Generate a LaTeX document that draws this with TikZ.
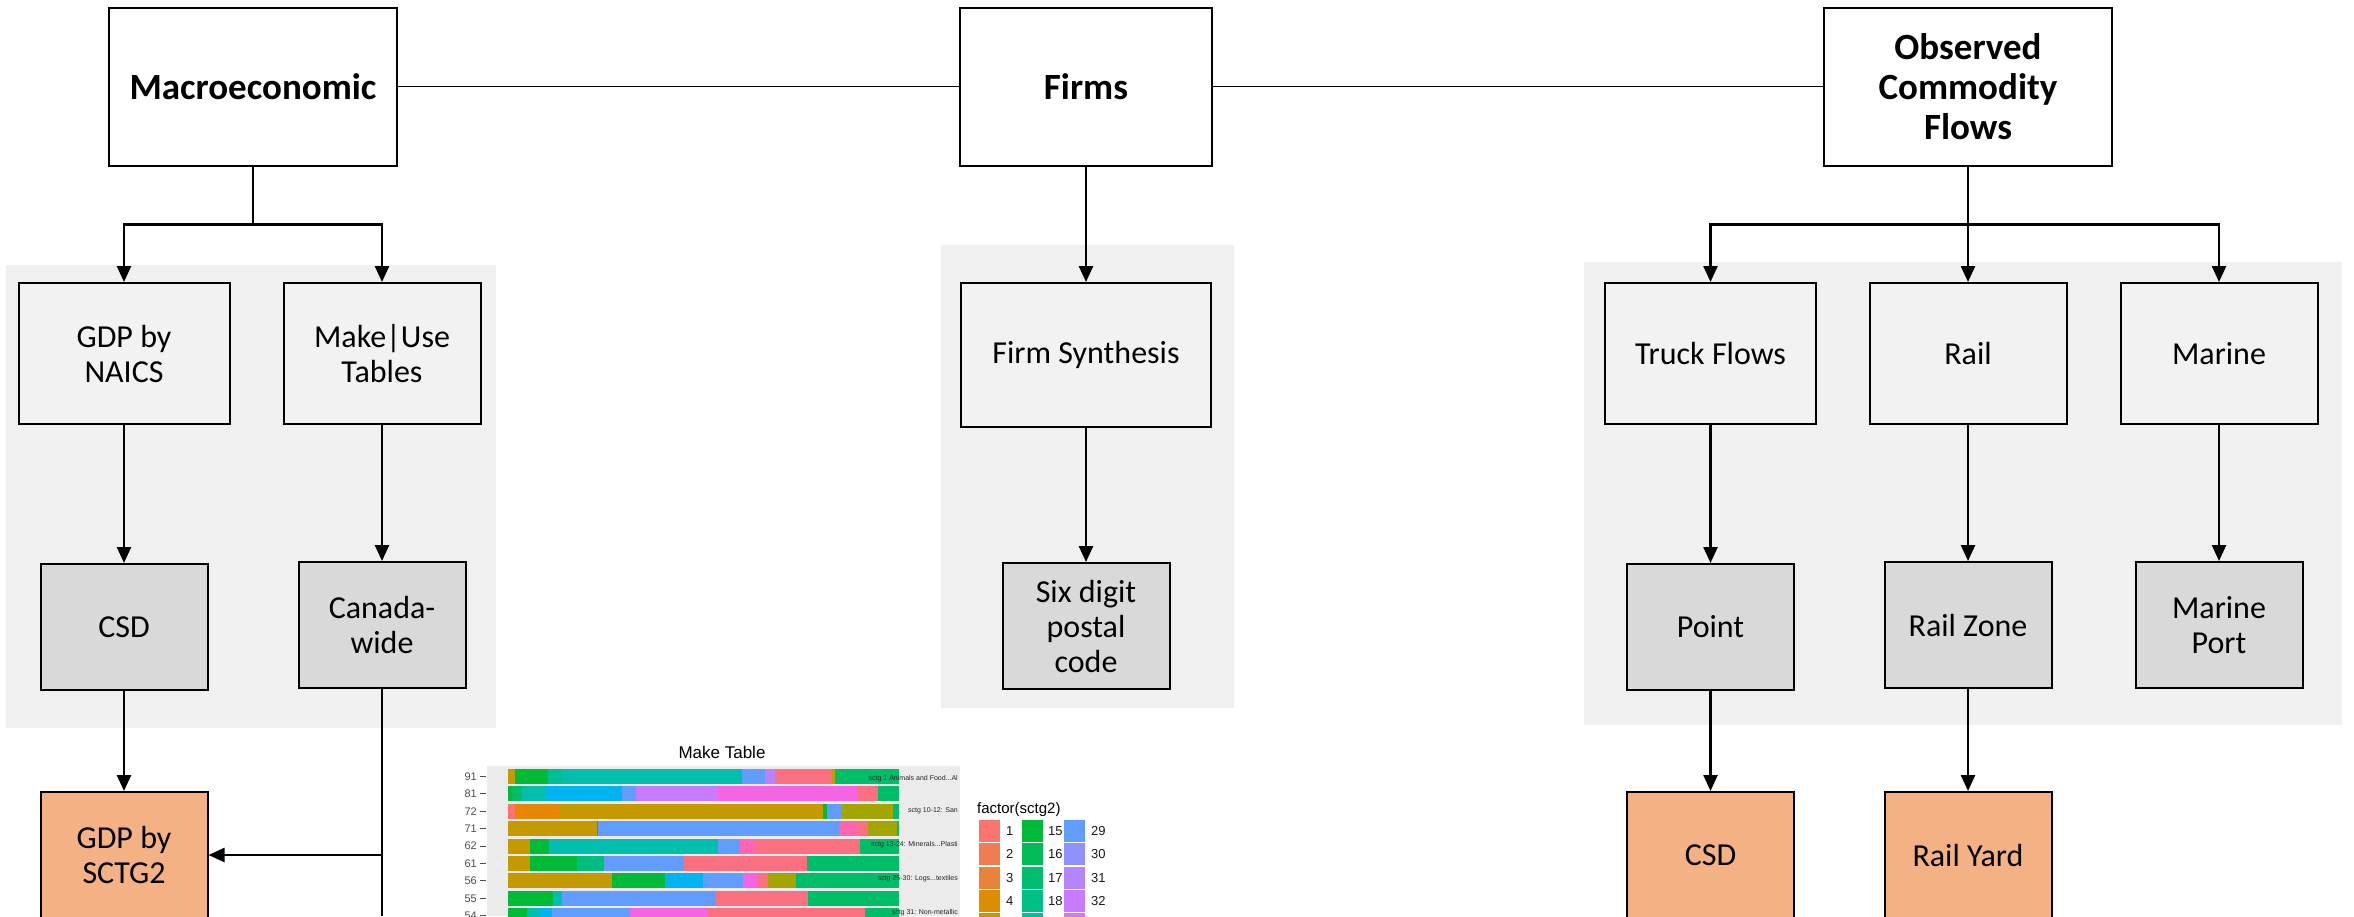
\documentclass[tikz,border=0pt]{standalone}
\usepackage{fontspec}
\setmainfont{Carlito}
\newfontfamily\plotfont{Liberation Sans}
\usetikzlibrary{positioning}
\usetikzlibrary{arrows.meta}

\definecolor{panelgray}{HTML}{F0F0F0}
\definecolor{srcfill}{HTML}{F2F2F2}
\definecolor{geofill}{HTML}{D9D9D9}
\definecolor{outfill}{HTML}{F4B183}
% plot colours
\definecolor{plotbg}{HTML}{EBEBEB}
\definecolor{cgold}{HTML}{C49A00}
\definecolor{corng}{HTML}{E58700}
\definecolor{csalm}{HTML}{F8766D}
\definecolor{cpnk}{HTML}{FA7080}
\definecolor{cpinkm}{HTML}{FF64B0}
\definecolor{colive}{HTML}{A3A500}
\definecolor{cgrn}{HTML}{00BA38}
\definecolor{cgrnb}{HTML}{00BD68}
\definecolor{cgrnc}{HTML}{00BF7D}
\definecolor{cteal}{HTML}{00BFAE}
\definecolor{ctealb}{HTML}{00BF96}
\definecolor{ccyan}{HTML}{00B4EF}
\definecolor{cblue}{HTML}{619CFF}
\definecolor{clav}{HTML}{B983FF}
\definecolor{cpurp}{HTML}{C77CFF}
\definecolor{cmag}{HTML}{F564E3}
\definecolor{lgb}{HTML}{EE7E52}
\definecolor{lgc}{HTML}{E7843A}
\definecolor{lgd}{HTML}{DE8C00}
\definecolor{lge}{HTML}{D39200}
\definecolor{lgp}{HTML}{00BC57}
\definecolor{lgq}{HTML}{00BE6F}
\definecolor{lgr}{HTML}{00C085}
\definecolor{lgs}{HTML}{00C199}
\definecolor{lgx}{HTML}{8F91FF}
\definecolor{lgy}{HTML}{B385FF}
\definecolor{lgz}{HTML}{DB72FB}

\tikzset{
    topbox/.style={
    draw, fill=white, line width=2pt,
    minimum width=288pt, minimum height=158pt,
    align=center, font=\fontsize{37}{40}\selectfont\bfseries
    },
    srcbox/.style={
    draw, fill=srcfill, line width=2pt,
    minimum height=141pt, inner sep=2pt,
    align=center, font=\fontsize{32}{35}\selectfont
    },
    geobox/.style={
    draw, fill=geofill, line width=2pt,
    minimum width=167pt, minimum height=126pt, inner sep=2pt,
    align=center, font=\fontsize{32}{35}\selectfont
    },
    outbox/.style={geobox, fill=outfill},
    arr/.style={line width=2.5pt, -{Triangle[length=16pt,width=14pt]}},
    conn/.style={line width=2.5pt},
    link/.style={line width=1.5pt},
    ylab/.style={font=\plotfont\fontsize{11}{13}\selectfont, text=black!70, inner sep=0pt},
    striplab/.style={font=\plotfont\fontsize{7}{8}\selectfont, text=black!85, inner sep=1pt},
    leglab/.style={font=\plotfont\fontsize{13}{15}\selectfont, text=black!90, inner sep=0pt}
}

\begin{document}
\begin{tikzpicture}[x=1pt,y=-1pt]
\useasboundingbox (0,0) rectangle (2354,916);
\clip (0,0) rectangle (2354,916);

% grey panels behind the groups
\fill[panelgray] (6,265) rectangle (496,728);
\fill[panelgray] (941,245) rectangle (1234,708);
\fill[panelgray] (1584,262) rectangle (2342,725);

\node [topbox](macro) at (253,86.5) {Macroeconomic};
\node [topbox,minimum width=252pt](firms) at (1086,86.5) {Firms};
\node [topbox](obs) at (1968,86.5) {Observed\\Commodity\\Flows};

\node [srcbox,minimum width=211pt](naics) at (124,353.5) {GDP by\\NAICS};
\node [srcbox,minimum width=197pt](makeuse) at (382,353.5) {Make|Use\\Tables};
\node [srcbox,minimum width=250pt,minimum height=144pt](synth) at (1086,355) {Firm Synthesis};
\node [srcbox,minimum width=211pt](truck) at (1710.5,353.5) {Truck Flows};
\node [srcbox,minimum width=197pt](rail) at (1968,353.5) {Rail};
\node [srcbox,minimum width=197pt](marine) at (2219,353.5) {Marine};

\node [geobox, below=138pt of naics](csd) {CSD};
\node [geobox, below=136pt of makeuse](canada) {Canada-\\wide};
\node [geobox, below=134pt of synth](postal) {Six digit\\postal\\code};
\node [geobox, below=138pt of truck](point) {Point};
\node [geobox, below=136pt of rail](railzone) {Rail Zone};
\node [geobox, below=136pt of marine](port) {Marine\\Port};

\node [outbox, below=100pt of csd](sctg) {GDP by\\SCTG2};
\node [outbox, below=100pt of point](csdout) {CSD};
\node [outbox, below=102pt of railzone](yard) {Rail Yard};

\draw[link] (macro.east) -- (firms.west);
\draw[link] (firms.east) -- (obs.west);

\draw[arr] (macro.south) -- ++(0,58) -| (naics.north);
\draw[arr] (macro.south) -- ++(0,58) -| (makeuse.north);
\draw[arr] (firms.south) -- (synth.north);
\draw[arr] (obs.south) -- ++(0,58) -| (truck.north);
\draw[arr] (obs.south) -- (rail.north);
\draw[arr] (obs.south) -- ++(0,58) -| (marine.north);

\draw[arr] (naics) -- (csd);
\draw[arr] (makeuse) -- (canada);
\draw[arr] (synth) -- (postal);
\draw[arr] (truck) -- (point);
\draw[arr] (rail) -- (railzone);
\draw[arr] (marine) -- (port);

\draw[arr] (csd) -- (sctg);
\draw[arr] (point) -- (csdout);
\draw[arr] (railzone) -- (yard);

\coordinate (cwend) at (382,916);
\draw[conn] (canada.south) -- (cwend);
\draw[arr] (canada.south |- sctg.east) -- (sctg.east);

% Make Table plot
\fill[plotbg] (487,766) rectangle (960,916);
\node[font=\plotfont\fontsize{17}{20}\selectfont](mktitle) at (722,752) {Make Table};

\foreach \yy/\lab/\segs in {
    0/91/{cgold/515,cgrn/548,ctealb/563,cteal/742,cblue/765,clav/775,cpnk/832,cgold/835,cgrnb/899},
    1/81/{cgrn/512,cgrnb/522,cteal/545,ccyan/622,cblue/636,cpurp/717,cmag/857,cpnk/878,cgrnb/899},
    2/72/{csalm/515,corng/560,cgold/823,cgrn/827,cblue/842,colive/893,cgrnb/899},
    3/71/{cgold/597,cgrn/598,cblue/839,cpinkm/857,cpnk/868,colive/897,cgrnb/899},
    4/62/{cgold/530,cgrn/549,cteal/718,cblue/740,cpinkm/755,cpnk/860,cgrnb/899},
    5/61/{cgold/530,cgrn/577,cgrnc/604,cblue/684,cpnk/807,cgrnb/899},
    6/56/{cgold/612,cgrn/665,ccyan/703,cblue/743,cmag/757,cpnk/768,colive/796,cgrnb/899},
    7/55/{cgrn/553,cteal/562,cblue/716,cpnk/808,cgrnb/899},
    8/54/{cgrn/527,cteal/540,ccyan/552,cblue/630,cmag/708,cpnk/865,cgrnb/899}}{
  \pgfmathsetmacro\yt{769+17.4*\yy}
  \foreach \c/\x [remember=\x as \lastx (initially 508)] in \segs
    \fill[\c] (\lastx,\yt) rectangle (\x,\yt+15);
  \node[ylab,anchor=east](ylab\yy) at (477,\yt+7.5) {\lab};
  \draw[black!70,line width=1pt] (480,\yt+7.5) -- (486,\yt+7.5);
}

\node[striplab,anchor=east](strip1) at (959,779) {sctg 1 Animals and Food...Al};
\node[striplab,anchor=east](strip2) at (959,811) {sctg 10-12: San};
\node[striplab,anchor=east](strip3) at (959,845) {sctg 13-24: Minerals...Plasti};
\node[striplab,anchor=east](strip4) at (959,879) {sctg 25-30: Logs...textiles};
\node[striplab,anchor=east](strip5) at (959,913) {sctg 31: Non-metallic};

% legend
\node[font=\plotfont\fontsize{15}{17}\selectfont,anchor=west,inner sep=0pt](legtitle) at (977,810) {factor(sctg2)};
\foreach \kx/\lx/\keys in {
    979/1006/{csalm/1,lgb/2,lgc/3,lgd/4},
    1022/1048/{cgrn/15,lgp/16,lgq/17,lgr/18},
    1064/1091/{cblue/29,lgx/30,lgy/31,cpurp/32}}{
  \foreach \c/\lab [count=\r from 0] in \keys {
    \pgfmathsetmacro\ky{820+23.3*\r}
    \fill[\c] (\kx,\ky) rectangle (\kx+21,\ky+22);
    \node[leglab,anchor=west](key\lab) at (\lx,\ky+11) {\lab};
  }
}
\fill[lge] (979,913.2) rectangle (1000,935);
\fill[lgs] (1022,913.2) rectangle (1043,935);
\fill[lgz] (1064,913.2) rectangle (1085,935);

\end{tikzpicture}
\end{document}
